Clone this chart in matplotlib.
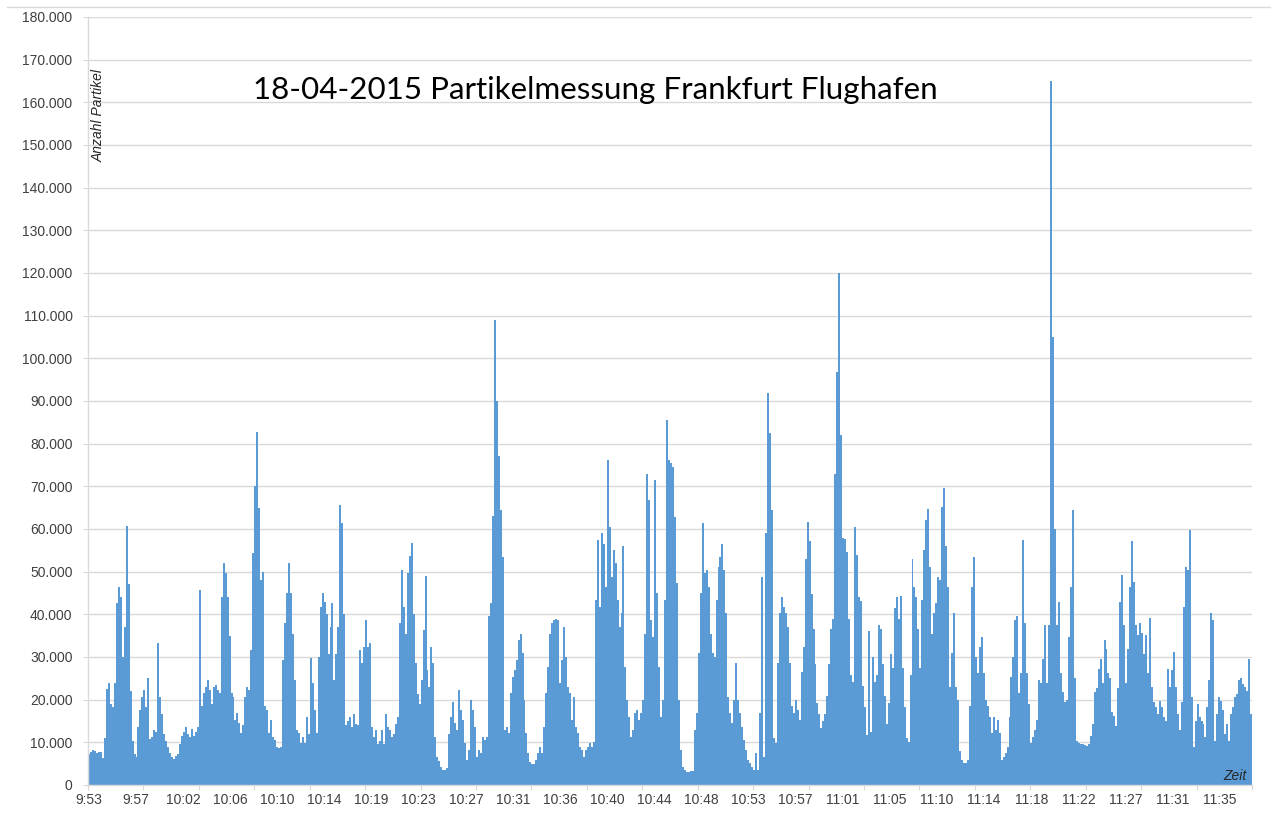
import numpy as np
import matplotlib
matplotlib.use("Agg")
import matplotlib.pyplot as plt
from matplotlib.lines import Line2D

# ---------------- data ----------------
title_text = "18-04-2015 Partikelmessung Frankfurt Flughafen"
y_title = "Anzahl Partikel"
x_title = "Zeit"

time_labels = ["9:53", "9:57", "10:02", "10:06", "10:10", "10:14", "10:19",
               "10:23", "10:27", "10:31", "10:36", "10:40", "10:44", "10:48",
               "10:53", "10:57", "11:01", "11:05", "11:10", "11:14", "11:18",
               "11:22", "11:27", "11:31", "11:35"]

# particle counts in thousands (one value per sample)
particles_k = [
    7.3, 7.8, 8.2, 7.9, 7.6, 7.8, 7.7, 6.3, 11.0, 22.6,
    23.8, 19.0, 18.3, 24.0, 42.6, 46.5, 44.0, 30.0, 37.0, 60.6,
    47.0, 22.0, 10.4, 7.3, 6.5, 13.6, 17.5, 20.6, 22.2, 18.3,
    25.0, 10.8, 11.2, 12.8, 12.5, 33.2, 20.6, 16.7, 12.0, 10.4,
    8.9, 7.5, 6.5, 6.1, 6.8, 7.3, 9.6, 11.6, 12.4, 13.6,
    12.0, 11.2, 13.2, 11.6, 12.5, 13.5, 45.7, 18.4, 21.5, 23.0,
    24.6, 22.3, 19.1, 23.0, 23.4, 22.3, 21.5, 44.0, 52.0, 49.6,
    44.0, 35.0, 21.5, 20.7, 15.2, 16.8, 14.5, 12.1, 14.0, 20.7,
    23.0, 22.3, 31.6, 54.3, 70.0, 82.8, 65.0, 48.0, 50.0, 18.4,
    17.6, 12.1, 15.2, 11.3, 10.5, 9.0, 8.6, 9.0, 29.3, 37.9,
    44.9, 52.0, 45.0, 35.5, 24.6, 12.9, 12.1, 9.8, 11.3, 9.8,
    16.0, 12.0, 29.7, 23.8, 17.6, 12.1, 30.0, 41.8, 45.0, 43.0,
    40.0, 30.8, 37.0, 42.6, 24.5, 30.8, 37.0, 65.7, 61.4, 40.0,
    14.0, 15.1, 15.9, 13.6, 16.7, 14.4, 14.0, 31.6, 28.5, 32.4,
    38.7, 32.4, 33.2, 13.6, 11.2, 12.8, 9.6, 10.4, 12.8, 9.6,
    16.7, 13.6, 12.8, 11.2, 12.0, 14.4, 15.9, 37.9, 50.4, 41.8,
    35.5, 49.6, 53.6, 56.7, 40.0, 28.5, 21.4, 19.0, 24.5, 36.3,
    48.9, 26.9, 23.0, 32.4, 28.5, 11.2, 6.5, 5.7, 4.2, 3.4,
    3.5, 3.9, 12.0, 16.0, 19.5, 14.5, 12.9, 22.3, 17.6, 15.2,
    9.8, 5.9, 8.2, 19.9, 17.6, 13.7, 6.6, 8.2, 7.4, 11.3,
    10.5, 11.3, 39.5, 42.6, 63.0, 109.0, 90.0, 77.0, 64.5, 53.5,
    12.9, 13.7, 12.1, 21.5, 25.4, 27.0, 29.3, 34.0, 35.5, 30.9,
    19.9, 12.1, 7.4, 5.5, 5.0, 5.0, 5.9, 7.4, 9.0, 7.4,
    13.7, 21.5, 27.7, 35.5, 37.9, 38.7, 39.0, 38.7, 23.8, 29.3,
    37.1, 30.0, 23.0, 21.5, 15.2, 20.7, 13.7, 12.1, 9.0, 8.2,
    6.6, 8.2, 9.0, 9.8, 9.0, 10.0, 43.4, 57.4, 41.8, 59.0,
    56.6, 46.5, 76.2, 60.5, 48.8, 55.0, 52.0, 43.4, 37.1, 40.2,
    55.9, 27.7, 19.9, 16.0, 11.3, 12.9, 16.8, 17.6, 15.2, 16.8,
    19.9, 35.5, 73.0, 66.8, 38.7, 34.8, 71.5, 45.0, 27.7, 16.0,
    19.9, 43.4, 85.5, 76.2, 75.4, 74.6, 62.9, 47.3, 19.9, 8.2,
    4.3, 3.5, 3.1, 3.1, 3.2, 3.3, 12.9, 16.8, 30.9, 44.9,
    61.3, 49.6, 50.4, 46.5, 35.5, 30.9, 30.1, 43.4, 51.2, 53.5,
    56.6, 50.4, 40.2, 20.7, 16.8, 14.5, 19.9, 28.5, 19.9, 16.8,
    13.7, 10.5, 8.2, 5.9, 5.1, 4.3, 3.5, 7.4, 3.5, 16.8,
    48.8, 6.6, 59.0, 91.8, 82.4, 64.5, 11.0, 9.8, 28.5, 40.2,
    44.1, 41.8, 40.2, 37.1, 28.5, 18.4, 16.8, 19.9, 17.6, 15.2,
    26.6, 32.4, 53.0, 61.7, 57.2, 44.8, 36.5, 28.3, 19.2, 16.7,
    13.4, 15.0, 16.7, 20.8, 28.3, 36.5, 39.0, 72.9, 96.9, 120.0,
    82.0, 58.0, 57.6, 54.7, 39.0, 25.8, 24.1, 60.5, 53.9, 44.0,
    43.1, 23.3, 18.3, 11.7, 36.1, 12.5, 30.0, 24.1, 25.8, 37.4,
    36.6, 28.3, 20.8, 14.2, 19.2, 30.7, 27.4, 41.5, 44.0, 39.0,
    44.4, 27.4, 18.3, 10.9, 10.0, 25.8, 53.0, 46.4, 44.0, 36.5,
    27.4, 43.4, 55.0, 62.1, 64.8, 51.2, 35.5, 40.2, 42.6, 48.8,
    48.0, 65.2, 69.5, 55.9, 46.5, 23.0, 30.9, 40.2, 23.0, 19.9,
    8.0, 5.9, 5.1, 5.1, 5.9, 18.4, 46.5, 53.5, 30.0, 26.2,
    32.4, 34.8, 26.2, 19.9, 18.4, 16.0, 12.1, 16.0, 12.9, 15.2,
    12.1, 5.9, 6.6, 7.4, 9.0, 16.0, 25.4, 30.0, 38.7, 39.5,
    21.5, 26.2, 57.4, 37.9, 26.2, 19.1, 9.8, 11.3, 12.9, 15.2,
    24.6, 24.0, 29.6, 37.4, 24.0, 37.4, 165.0, 105.0, 60.0, 37.4,
    43.0, 26.2, 21.7, 19.4, 20.0, 34.6, 46.4, 64.4, 25.1, 10.4,
    9.8, 9.6, 9.5, 9.3, 9.2, 9.5, 11.5, 14.4, 21.7, 22.8,
    27.3, 29.6, 24.0, 34.0, 31.8, 26.2, 25.1, 17.2, 16.1, 13.8,
    22.8, 43.0, 49.3, 37.4, 24.0, 31.8, 46.4, 57.1, 47.5, 37.4,
    35.2, 38.0, 35.7, 30.7, 35.2, 26.2, 39.1, 23.0, 19.4, 18.3,
    16.7, 19.8, 18.3, 15.9, 15.1, 27.3, 23.0, 26.9, 31.2, 23.0,
    16.7, 12.8, 19.5, 41.8, 51.2, 50.4, 59.8, 20.6, 8.9, 15.1,
    19.0, 15.9, 15.1, 14.4, 11.2, 18.3, 24.5, 40.2, 38.7, 10.4,
    16.7, 20.6, 19.8, 17.5, 12.0, 14.4, 10.4, 16.7, 18.3, 20.6,
    21.4, 24.5, 25.0, 23.7, 23.0, 22.0, 29.6, 16.7,
]

y_max = 180000
y_step = 10000

# ---------------- layout / style ----------------
W, H = 1277, 827
BAR = "#5B9BD5"
GRID = "#D9D9D9"
TXT = "#404040"

fig = plt.figure(figsize=(W / 100, H / 100), dpi=100)
fig.patch.set_facecolor("white")

L, R, T, B = 88, 1252, 17, 785
ax = fig.add_axes([L / W, 1 - B / H, (R - L) / W, (B - T) / H])

values = np.array(particles_k) * 1000.0
n = len(values)
x = np.arange(n)
ax.bar(x, values, width=1.0, color=BAR, linewidth=0, antialiased=False,
       zorder=2)

ax.set_xlim(-0.5, n - 0.5)
ax.set_ylim(0, y_max)

# y axis
yt = np.arange(0, y_max + 1, y_step)
ax.set_yticks(yt)
ax.set_yticklabels([f"{int(v):,}".replace(",", ".") for v in yt],
                   fontsize=10, family="Liberation Sans", color=TXT)
ax.yaxis.grid(True, color=GRID, linewidth=1.0, zorder=0)
ax.set_axisbelow(True)
ax.tick_params(axis="y", length=3.6, width=0.8, color=GRID, pad=7.5)

# x axis: tick marks every 28 samples, labels every 0.85 of that
tick_step = n / 21
ax.set_xticks(np.arange(0, 22) * tick_step - 0.5)
ax.set_xticklabels([])
ax.tick_params(axis="x", which="major", length=3.6, width=0.8, color=GRID)
label_step = tick_step * 0.85
ax.set_xticks(np.arange(len(time_labels)) * label_step, minor=True)
ax.set_xticklabels(time_labels, minor=True, fontsize=10,
                   family="Liberation Sans", color=TXT)
ax.tick_params(axis="x", which="minor", length=0, pad=6)

for s in ["top", "right"]:
    ax.spines[s].set_visible(False)
for s in ["left", "bottom"]:
    ax.spines[s].set_color(GRID)
    ax.spines[s].set_linewidth(1.0)
ax.spines["bottom"].set_zorder(3)

# axis titles (inside plot area, as in Excel)
fig.text(99 / W, 1 - 116 / H, y_title, rotation=90, ha="center", va="center",
         fontsize=10, style="italic", family="Liberation Sans", color="#262626")
fig.text(1247 / W, 1 - 776 / H, x_title, ha="right", va="center",
         fontsize=10, style="italic", family="Liberation Sans", color="#262626")

# chart title, fitted to its width in the reference
t = fig.text(253 / W, 1 - 99 / H, title_text, ha="left", va="baseline",
             fontsize=24, family="Lato", color="black")
fig.canvas.draw()
w = t.get_window_extent().width
t.set_fontsize(24 * 687 / w)

# faint chart-area border on top
fig.add_artist(Line2D([7 / W, 1270 / W], [1 - 7 / H, 1 - 7 / H],
                      color=GRID, linewidth=1.0))

fig.savefig("out.png", dpi=100)
